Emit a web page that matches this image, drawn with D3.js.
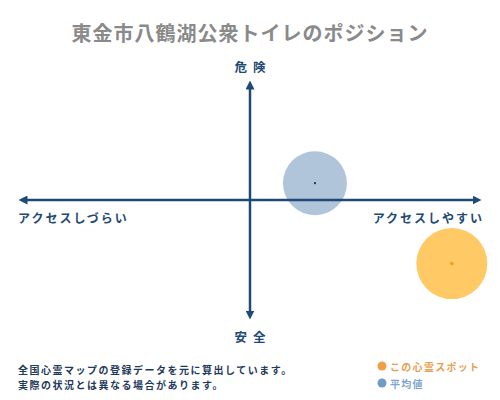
<!DOCTYPE html>
<html>
<head>
<meta charset="utf-8">
<script src="https://cdn.jsdelivr.net/npm/d3@7"></script>
<style>
  html, body { margin: 0; padding: 0; background: #fff; }
  svg { display: block; font-family: "Noto Sans CJK JP", "Noto Sans", sans-serif; }
</style>
</head>
<body>
<svg id="chart" width="500" height="400"></svg>
<script>
const title = "東金市八鶴湖公衆トイレのポジション";
const axisLabels = { top: "危険", bottom: "安全", left: "アクセスしづらい", right: "アクセスしやすい" };
const seriesNames = ["この心霊スポット", "平均値"];
const accessValues = [0.87, 0.28];   // x: access (-1 hard .. 1 easy)
const dangerValues = [-0.53, 0.14];  // y: danger (-1 safe .. 1 danger)
const notes = ["全国心霊マップの登録データを元に算出しています。", "実際の状況とは異なる場合があります。"];

const fillColors = ["#ffc966", "#b0c4da"];
const dotColors = ["#f0a020", "#1f3550"];
const legendDot = ["#f0a040", "#6f9cc4"];
const legendText = ["#e8a050", "#7fa6c8"];
const navy = "#1f4a75";

const svg = d3.select("#chart");
const x = d3.scaleLinear().domain([-1, 1]).range([18, 482]);
const y = d3.scaleLinear().domain([-1, 1]).range([320, 80]);

svg.append("text").attr("x", 250).attr("y", 32).attr("text-anchor", "middle")
  .attr("dominant-baseline", "central").attr("fill", "#8a8a8a")
  .attr("font-size", 20).attr("font-weight", "bold").attr("letter-spacing", 1)
  .text(title);

const defs = svg.append("defs");
defs.append("marker").attr("id", "arr").attr("viewBox", "0 0 10 10")
  .attr("refX", 5).attr("refY", 5).attr("markerWidth", 3.6).attr("markerHeight", 3.6)
  .attr("orient", "auto-start-reverse").attr("markerUnits", "strokeWidth")
  .append("path").attr("d", "M0,0 L10,5 L0,10 z").attr("fill", navy);

// bubbles
const idx = [1, 0];
svg.selectAll("circle.bubble").data(idx).enter().append("circle")
  .attr("class", "bubble")
  .attr("cx", i => x(accessValues[i])).attr("cy", i => y(dangerValues[i]))
  .attr("r", i => i === 0 ? 35.5 : 32)
  .attr("fill", i => fillColors[i]);

// axes
svg.append("line").attr("x1", x(-1) + 5).attr("x2", x(1) - 5).attr("y1", y(0)).attr("y2", y(0))
  .attr("stroke", navy).attr("stroke-width", 2.5)
  .attr("marker-start", "url(#arr)").attr("marker-end", "url(#arr)");
svg.append("line").attr("x1", x(0)).attr("x2", x(0)).attr("y1", y(1) + 5).attr("y2", y(-1) - 5)
  .attr("stroke", navy).attr("stroke-width", 2.5)
  .attr("marker-start", "url(#arr)").attr("marker-end", "url(#arr)");

// centre dots
svg.selectAll("circle.dot").data(idx).enter().append("circle")
  .attr("class", "dot")
  .attr("cx", i => x(accessValues[i])).attr("cy", i => y(dangerValues[i]))
  .attr("r", i => i === 0 ? 1.8 : 1.1)
  .attr("fill", i => dotColors[i]);

// axis labels
const lab = (t, xx, yy, anchor, ls, fs) => svg.append("text").attr("x", xx).attr("y", yy)
  .attr("text-anchor", anchor).attr("dominant-baseline", "central")
  .attr("fill", navy).attr("font-size", fs).attr("font-weight", "bold")
  .attr("letter-spacing", ls).text(t);
lab(axisLabels.top, 250 + 3, 66, "middle", 6, 12.5);
lab(axisLabels.bottom, 250 + 3, 336, "middle", 6, 12.5);
lab(axisLabels.left, 18, 217, "start", 2, 12);
lab(axisLabels.right, 484, 217, "end", 2, 12);

// notes
svg.selectAll("text.note").data(notes).enter().append("text").attr("class", "note")
  .attr("x", 18).attr("y", (d, i) => 369 + i * 15).attr("dominant-baseline", "central")
  .attr("fill", "#1f3a5a").attr("font-size", 10).attr("font-weight", "bold")
  .attr("letter-spacing", 1.5).text(d => d);

// legend
const lg = svg.selectAll("g.lg").data([0, 1]).enter().append("g").attr("class", "lg")
  .attr("transform", i => `translate(382, ${366 + i * 17})`);
lg.append("circle").attr("r", 4.5).attr("fill", i => legendDot[i]);
lg.append("text").attr("x", 8).attr("dominant-baseline", "central")
  .attr("fill", i => legendText[i]).attr("font-size", 10).attr("font-weight", "bold")
  .attr("letter-spacing", 1.3).text(i => seriesNames[i]);
</script>
</body>
</html>
